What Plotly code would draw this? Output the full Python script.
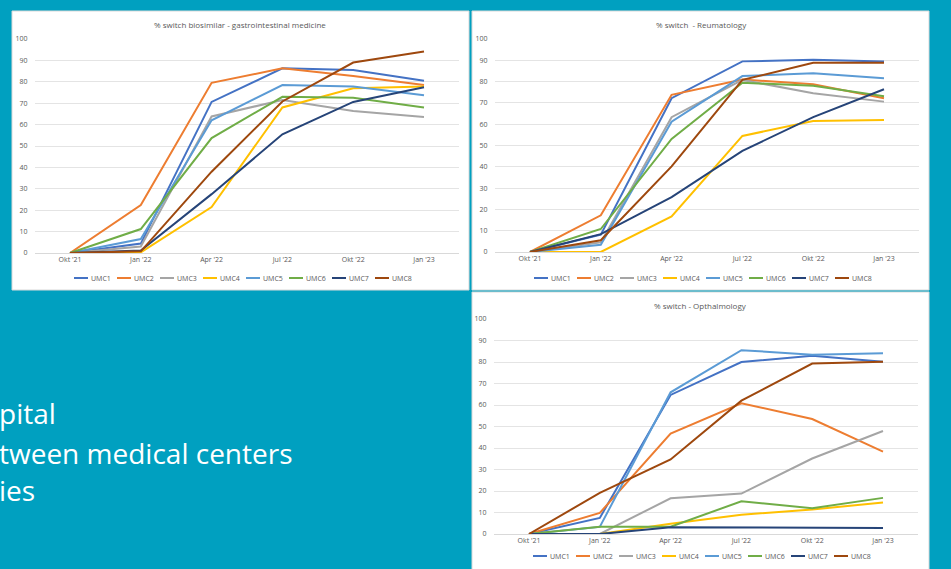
import plotly.graph_objects as go

W, H = 951, 569
categories = ["Okt '21", "Jan '22", "Apr '22", "Jul '22", "Okt '22", "Jan '23"]
series_names = ["UMC1", "UMC2", "UMC3", "UMC4", "UMC5", "UMC6", "UMC7", "UMC8"]
colors = ["#4472C4", "#ED7D31", "#A5A5A5", "#FFC000", "#5B9BD5", "#70AD47", "#264478", "#9E480E"]

gastro_title = "% switch biosimilar - gastrointestinal medicine"
gastro_umc1 = [0, 4.4, 70.6, 86.3, 85.5, 80.5]
gastro_umc2 = [0, 22.4, 79.5, 86.3, 82.7, 78.5]
gastro_umc3 = [0, 3.0, 63.8, 71.5, 66.4, 63.5]
gastro_umc4 = [0, 0.3, 21.5, 68.0, 77.0, 77.8]
gastro_umc5 = [0, 6.5, 62.0, 78.5, 77.8, 73.7]
gastro_umc6 = [0, 11.2, 53.7, 73.0, 72.6, 68.0]
gastro_umc7 = [0, 1.2, 27.5, 55.5, 70.6, 77.5]
gastro_umc8 = [0, 0.8, 38.0, 70.8, 89.0, 94.2]

reuma_title = "% switch  - Reumatology"
reuma_umc1 = [0, 8.1, 72.2, 89.5, 90.2, 89.4]
reuma_umc2 = [0, 17.2, 73.8, 81.0, 78.8, 72.2]
reuma_umc3 = [0, 4.5, 63.3, 80.8, 74.5, 70.6]
reuma_umc4 = [0, 0.0, 16.7, 54.5, 61.5, 62.0]
reuma_umc5 = [0, 3.4, 61.2, 82.6, 83.9, 81.6]
reuma_umc6 = [0, 10.8, 53.1, 79.5, 78.0, 73.1]
reuma_umc7 = [0, 8.4, 25.8, 47.5, 63.3, 76.4]
reuma_umc8 = [0, 5.5, 40.2, 80.8, 88.8, 88.8]

optha_title = "% switch - Opthalmology"
optha_umc1 = [0, 7.5, 64.7, 80.0, 82.9, 80.1]
optha_umc2 = [0, 9.8, 46.7, 60.8, 53.5, 38.3]
optha_umc3 = [0, 0.0, 16.6, 18.8, 35.1, 47.9]
optha_umc4 = [0, 0.0, 4.8, 9.0, 11.4, 14.6]
optha_umc5 = [0, 3.3, 65.9, 85.5, 83.4, 84.1]
optha_umc6 = [0, 3.4, 3.4, 15.2, 12.0, 16.8]
optha_umc7 = [0, 0.0, 3.1, 3.0, 2.8, 2.8]
optha_umc8 = [0, 19.1, 34.7, 62.0, 79.3, 80.1]

side_lines = ["pital", "tween medical centers", "ies"]

panels = [
    dict(title=gastro_title, data=[gastro_umc1, gastro_umc2, gastro_umc3, gastro_umc4,
                                   gastro_umc5, gastro_umc6, gastro_umc7, gastro_umc8],
         box=(12, 11, 469, 290), plot=(34.6, 459.4, 39, 253), title_xy=(240, 24), leg_xy=(74, 278)),
    dict(title=reuma_title, data=[reuma_umc1, reuma_umc2, reuma_umc3, reuma_umc4,
                                  reuma_umc5, reuma_umc6, reuma_umc7, reuma_umc8],
         box=(472, 11, 929, 290), plot=(494.6, 919.4, 39, 252), title_xy=(701, 24), leg_xy=(534, 278)),
    dict(title=optha_title, data=[optha_umc1, optha_umc2, optha_umc3, optha_umc4,
                                  optha_umc5, optha_umc6, optha_umc7, optha_umc8],
         box=(472, 292, 929, 575), plot=(493.6, 918.4, 319, 534), title_xy=(700, 305), leg_xy=(533, 556)),
]
LEG_STEP = 43
LEG_SWATCH = 14

def px(x):
    return x / W

def py(y):
    return 1 - y / H

fig = go.Figure()
FONT = "Open Sans, Lato, sans-serif"
layout = dict(
    width=W, height=H,
    margin=dict(l=0, r=0, t=0, b=0, autoexpand=False),
    paper_bgcolor="#00A0C0",
    plot_bgcolor="white",
    showlegend=False,
    font=dict(family=FONT, color="#595959", size=7),
    shapes=[], annotations=[],
)

for i, p in enumerate(panels):
    n = "" if i == 0 else str(i + 1)
    for name, col, vals in zip(series_names, colors, p["data"]):
        fig.add_trace(go.Scatter(
            x=categories, y=vals, name=name, mode="lines",
            line=dict(color=col, width=2),
            xaxis="x" + n, yaxis="y" + n,
        ))
    x0, x1, y0, y1 = p["plot"]
    layout["xaxis" + n] = dict(
        domain=[px(x0), px(x1)], anchor="y" + n, type="category",
        categoryorder="array", categoryarray=categories, range=[-0.5, 5.5],
        showgrid=False, showline=True, linecolor="#D9D9D9", linewidth=1,
        ticks="", tickfont=dict(size=7, color="#595959"), fixedrange=True,
    )
    layout["yaxis" + n] = dict(
        domain=[py(y1), py(y0)], anchor="x" + n, range=[0, 100], dtick=10,
        showgrid=True, gridcolor="#E4E4E4", gridwidth=1, zeroline=False,
        showline=False, ticks="", tickfont=dict(size=7, color="#595959"),
        ticklabelstandoff=6, fixedrange=True,
    )
    bx0, by0, bx1, by1 = p["box"]
    layout["shapes"].append(dict(
        type="rect", xref="paper", yref="paper",
        x0=px(bx0), x1=px(bx1), y0=py(by1), y1=py(by0),
        fillcolor="white", line=dict(color="#D9D9D9", width=1), layer="below",
    ))
    tx, ty = p["title_xy"]
    layout["annotations"].append(dict(
        text=p["title"], xref="paper", yref="paper", x=px(tx), y=py(ty),
        xanchor="center", yanchor="middle", showarrow=False,
        font=dict(size=8, color="#595959"),
    ))
    # legend row (one entry per series)
    lx, ly = p["leg_xy"]
    for k, (name, col) in enumerate(zip(series_names, colors)):
        sx = lx + k * LEG_STEP
        layout["shapes"].append(dict(
            type="line", xref="paper", yref="paper",
            x0=px(sx), x1=px(sx + LEG_SWATCH), y0=py(ly), y1=py(ly),
            line=dict(color=col, width=2), layer="above",
        ))
        layout["annotations"].append(dict(
            text=name, xref="paper", yref="paper", x=px(sx + LEG_SWATCH + 1), y=py(ly),
            xanchor="left", yanchor="middle", showarrow=False,
            font=dict(size=7, color="#595959"),
        ))

for text, yy in zip(side_lines, [413, 453, 490]):
    layout["annotations"].append(dict(
        text=text, xref="paper", yref="paper", x=px(-3), y=py(yy),
        xanchor="left", yanchor="middle", showarrow=False,
        font=dict(size=28, color="white", family=FONT),
    ))

fig.update_layout(**layout)
fig.write_html(
    "out.html",
    config={"displayModeBar": False, "staticPlot": True},
    post_script="document.body.style.margin='0';document.body.style.background='#00A0C0';",
)
